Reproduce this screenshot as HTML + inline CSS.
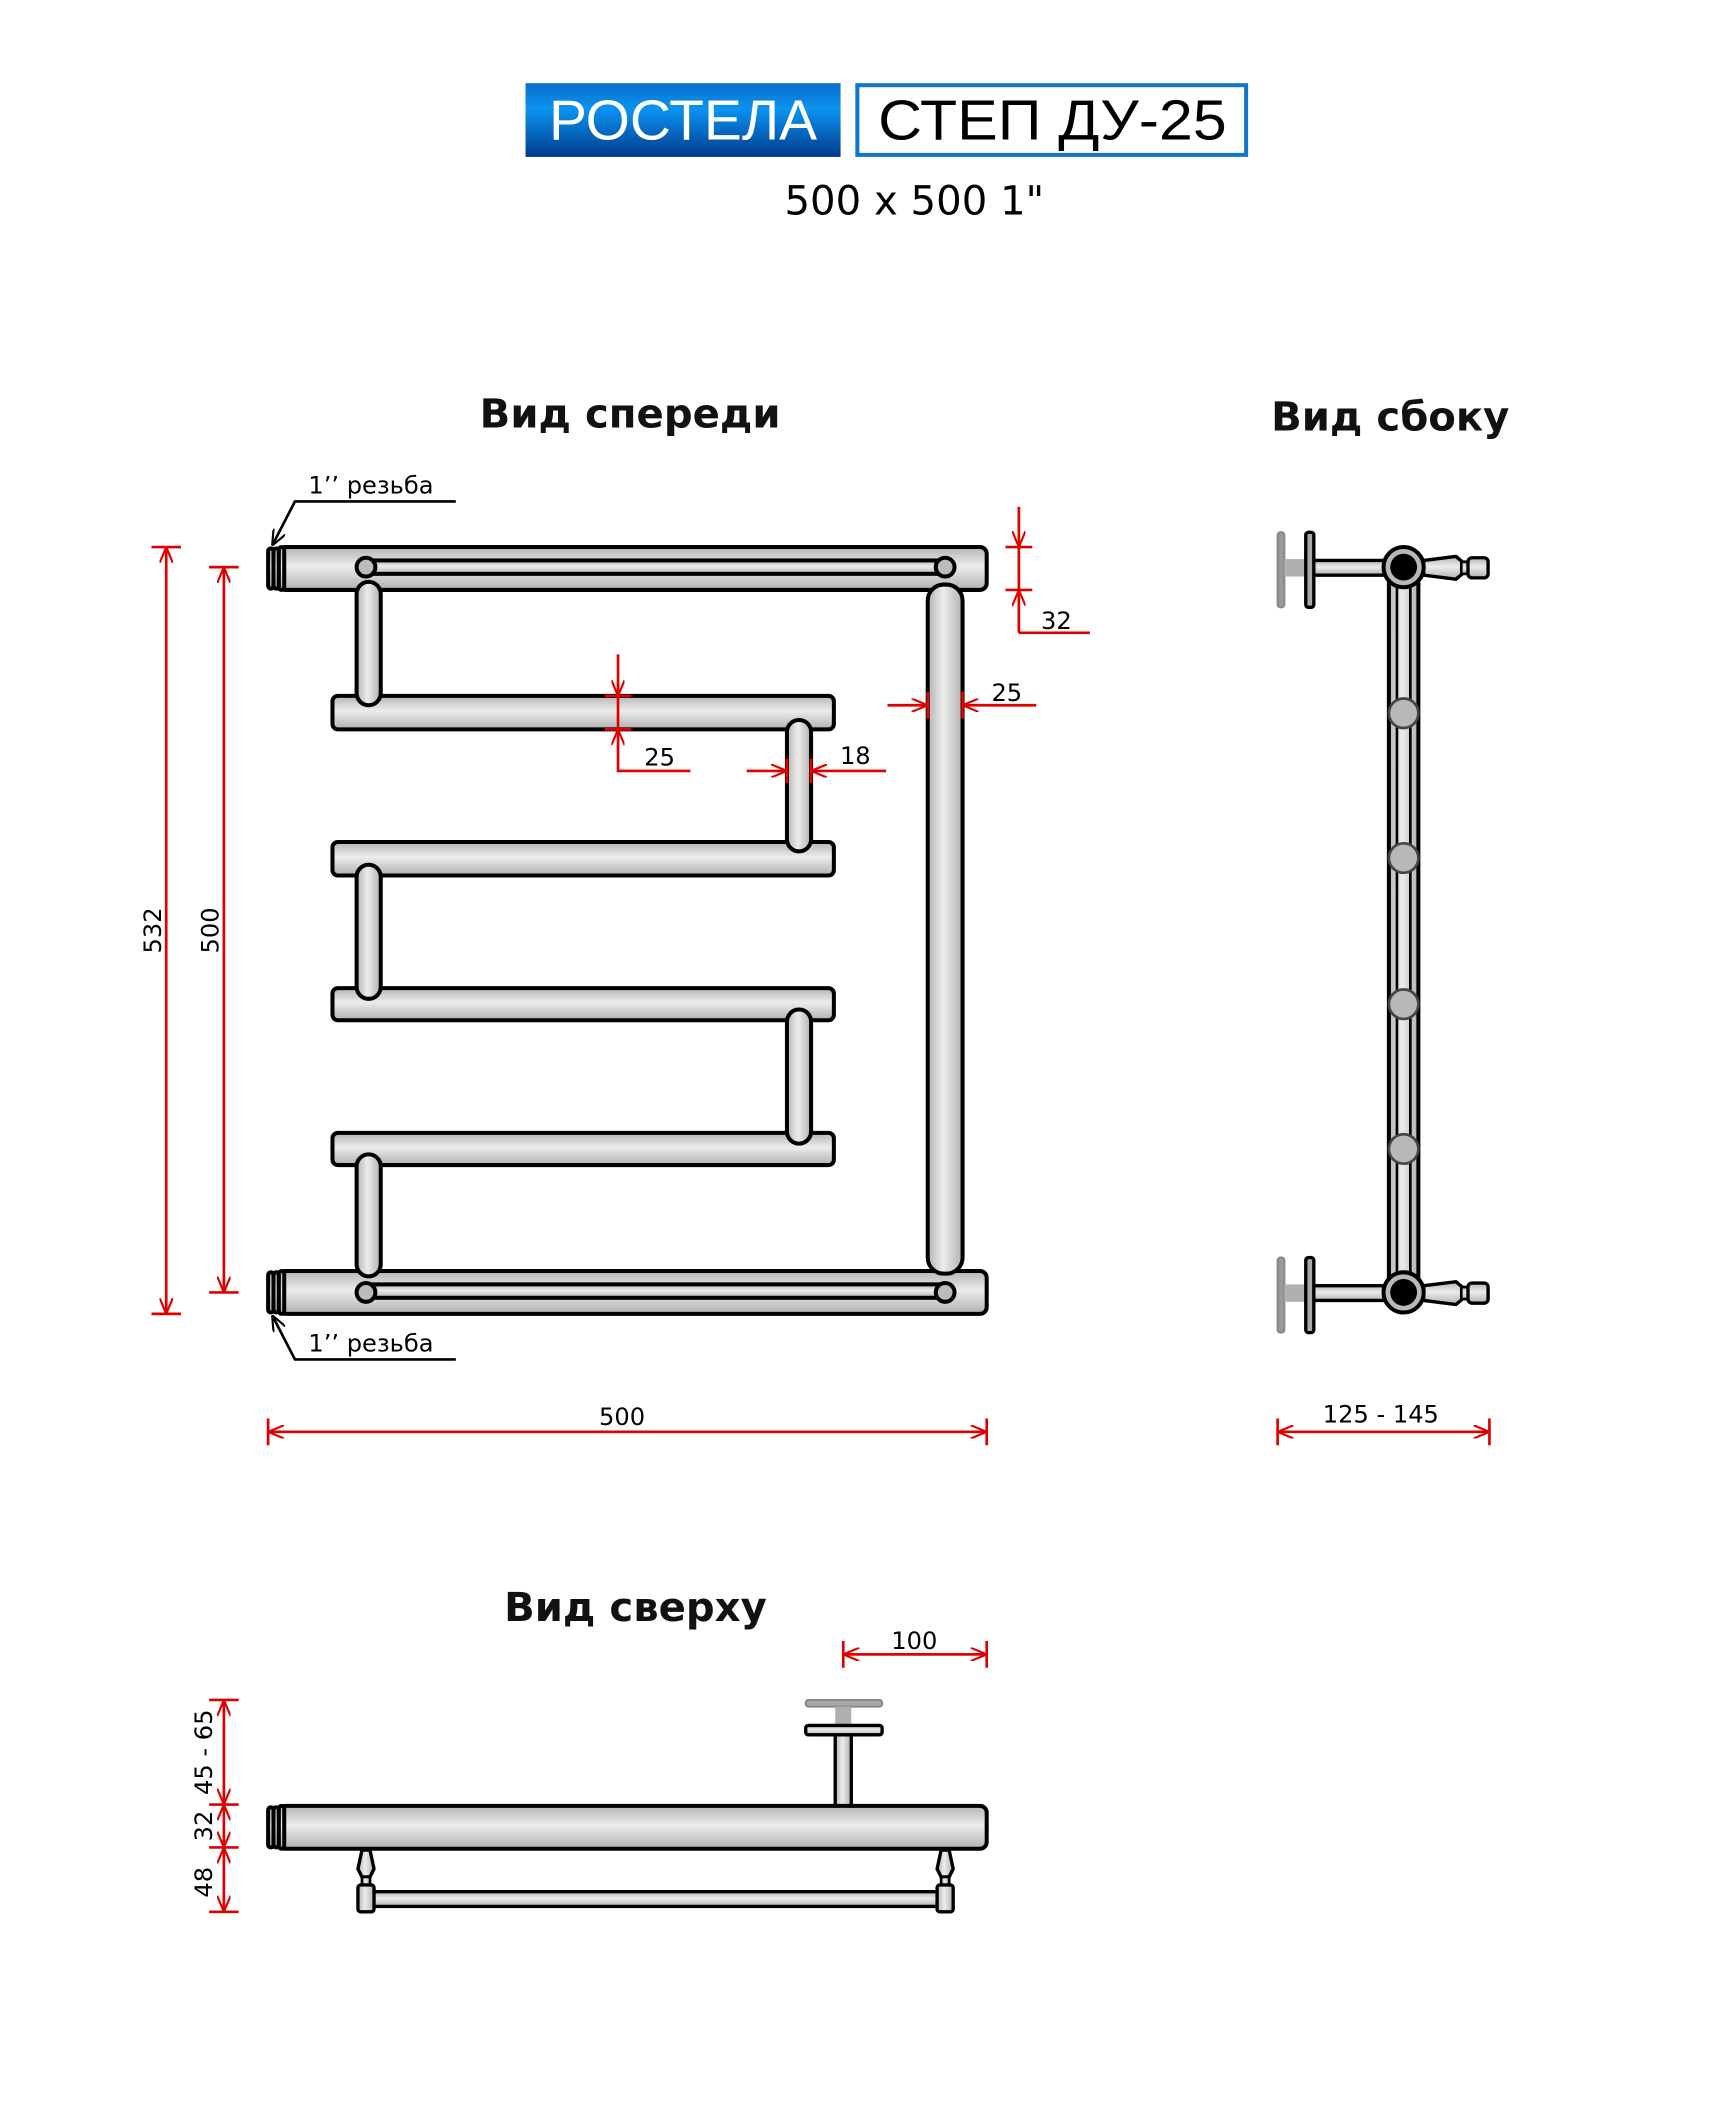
<!DOCTYPE html>
<html><head><meta charset="utf-8"><style>html,body{margin:0;padding:0;background:#fff}svg{display:block}</style></head>
<body>
<svg width="1716" height="2125" viewBox="0 0 1280 1585" xmlns="http://www.w3.org/2000/svg" font-family="'DejaVu Sans','Liberation Sans',sans-serif">
<defs>
<linearGradient id="gh" x1="0" y1="0" x2="0" y2="1">
<stop offset="0" stop-color="#b4b4b4"/><stop offset="0.45" stop-color="#ececec"/><stop offset="1" stop-color="#b0b0b0"/></linearGradient>
<linearGradient id="gv" x1="0" y1="0" x2="1" y2="0">
<stop offset="0" stop-color="#b4b4b4"/><stop offset="0.45" stop-color="#ececec"/><stop offset="1" stop-color="#b0b0b0"/></linearGradient>
<linearGradient id="gb" x1="0" y1="0" x2="0" y2="1">
<stop offset="0" stop-color="#0a6fc8"/><stop offset="0.35" stop-color="#0a93f0"/><stop offset="1" stop-color="#003a8c"/></linearGradient>
<marker id="ar" viewBox="0 0 12 10" refX="12" refY="5" markerWidth="12" markerHeight="10" markerUnits="userSpaceOnUse" orient="auto-start-reverse">
<path d="M0,0 L12,5 L0,10" fill="none" stroke="#e00000" stroke-width="1.6"/></marker>
<marker id="ak" viewBox="0 0 12 10" refX="12" refY="5" markerWidth="12" markerHeight="10" markerUnits="userSpaceOnUse" orient="auto">
<path d="M0,0 L12,5 L0,10" fill="none" stroke="#000" stroke-width="1.6"/></marker>
</defs>

<!-- header -->
<rect x="392" y="62" width="235" height="55" fill="url(#gb)"/>
<text x="509.5" y="104" font-size="42" fill="#fff" text-anchor="middle" font-family="'Liberation Sans',sans-serif" textLength="200" lengthAdjust="spacingAndGlyphs">РОСТЕЛА</text>
<rect x="639.5" y="63.5" width="290" height="52" fill="#fff" stroke="#1177cc" stroke-width="3"/>
<text x="785" y="104" font-size="42" fill="#000" text-anchor="middle" font-family="'Liberation Sans',sans-serif" textLength="260" lengthAdjust="spacingAndGlyphs">СТЕП ДУ-25</text>
<text x="682" y="160" font-size="30" fill="#000" text-anchor="middle" font-family="'DejaVu Sans',sans-serif">500 x 500 1"</text>

<g font-size="30" font-weight="bold" text-anchor="middle" fill="#111">
<text x="470" y="319">Вид спереди</text>
<text x="1037" y="321">Вид сбоку</text>
<text x="474" y="1209">Вид сверху</text>
</g>

<g stroke="#000" stroke-width="3">
<rect x="248" y="519" width="374" height="25" rx="4" fill="url(#gh)"/>
<rect x="248" y="628" width="374" height="25" rx="4" fill="url(#gh)"/>
<rect x="248" y="737" width="374" height="24" rx="4" fill="url(#gh)"/>
<rect x="248" y="845" width="374" height="24" rx="4" fill="url(#gh)"/>
<rect x="208" y="408" width="528" height="32" rx="5" fill="url(#gh)"/>
<rect x="208" y="948" width="528" height="32" rx="5" fill="url(#gh)"/>
<g fill="url(#gh)">
<rect x="200" y="409" width="4" height="30" rx="2"/><rect x="204" y="409" width="4" height="30" rx="2"/><rect x="208" y="408" width="4" height="32" rx="2"/>
<rect x="200" y="949" width="4" height="30" rx="2"/><rect x="204" y="949" width="4" height="30" rx="2"/><rect x="208" y="948" width="4" height="32" rx="2"/>
</g>
<rect x="273" y="418" width="432" height="10" fill="url(#gh)"/>
<rect x="273" y="958" width="432" height="10" fill="url(#gh)"/>
<circle cx="273" cy="423" r="7" fill="#bbb"/><circle cx="705" cy="423" r="7" fill="#bbb"/>
<circle cx="273" cy="964" r="7" fill="#bbb"/><circle cx="705" cy="964" r="7" fill="#bbb"/>
<rect x="266" y="434" width="18" height="92" rx="9" fill="url(#gv)"/>
<rect x="266" y="645" width="18" height="100" rx="9" fill="url(#gv)"/>
<rect x="266" y="861" width="18" height="91" rx="9" fill="url(#gv)"/>
<rect x="587" y="537" width="18" height="98" rx="9" fill="url(#gv)"/>
<rect x="587" y="753" width="18" height="100" rx="9" fill="url(#gv)"/>
<rect x="692" y="436" width="26" height="514" rx="12" fill="url(#gv)"/>
</g>

<g font-size="18" fill="#000">
<text x="230" y="368">1’’ резьба</text>
<text x="230" y="1008">1’’ резьба</text>
</g>
<g stroke="#000" stroke-width="2" fill="none">
<path d="M340,374 H220 L203,407" marker-end="url(#ak)"/>
<path d="M340,1014 H220 L203,981" marker-end="url(#ak)"/>
</g>

<g stroke="#e00000" stroke-width="2" fill="none">
<line x1="124" y1="408" x2="124" y2="980" marker-start="url(#ar)" marker-end="url(#ar)"/>
<line x1="113" y1="408" x2="135" y2="408"/><line x1="113" y1="980" x2="135" y2="980"/>
<line x1="167" y1="423" x2="167" y2="964" marker-start="url(#ar)" marker-end="url(#ar)"/>
<line x1="156" y1="423" x2="178" y2="423"/><line x1="156" y1="964" x2="178" y2="964"/>
<line x1="200" y1="1068" x2="736" y2="1068" marker-start="url(#ar)" marker-end="url(#ar)"/>
<line x1="200" y1="1058" x2="200" y2="1078"/><line x1="736" y1="1058" x2="736" y2="1078"/>
<line x1="760" y1="378" x2="760" y2="408" marker-end="url(#ar)"/>
<path d="M760,472 V440" marker-end="url(#ar)"/>
<line x1="760" y1="408" x2="760" y2="440"/>
<path d="M760,472 H813"/>
<line x1="750" y1="408" x2="770" y2="408"/><line x1="750" y1="440" x2="770" y2="440"/>
<line x1="662" y1="526" x2="692" y2="526" marker-end="url(#ar)"/>
<line x1="773" y1="526" x2="718" y2="526" marker-end="url(#ar)"/>
<line x1="692" y1="516" x2="692" y2="536"/><line x1="718" y1="516" x2="718" y2="536"/>
<line x1="461" y1="488" x2="461" y2="519" marker-end="url(#ar)"/>
<line x1="461" y1="519" x2="461" y2="544"/>
<path d="M515,575 H461 V544" marker-end="url(#ar)"/>
<line x1="451" y1="519" x2="471" y2="519"/><line x1="451" y1="544" x2="471" y2="544"/>
<line x1="557" y1="575" x2="587" y2="575" marker-end="url(#ar)"/>
<line x1="661" y1="575" x2="605" y2="575" marker-end="url(#ar)"/>
<line x1="587" y1="566" x2="587" y2="584"/><line x1="605" y1="566" x2="605" y2="584"/>
<line x1="953" y1="1068" x2="1111" y2="1068" marker-start="url(#ar)" marker-end="url(#ar)"/>
<line x1="953" y1="1058" x2="953" y2="1078"/><line x1="1111" y1="1058" x2="1111" y2="1078"/>
<line x1="629" y1="1234" x2="736" y2="1234" marker-start="url(#ar)" marker-end="url(#ar)"/>
<line x1="629" y1="1224" x2="629" y2="1244"/><line x1="736" y1="1224" x2="736" y2="1244"/>
<line x1="167" y1="1268" x2="167" y2="1346" marker-start="url(#ar)" marker-end="url(#ar)"/>
<line x1="167" y1="1346" x2="167" y2="1378" marker-start="url(#ar)" marker-end="url(#ar)"/>
<line x1="167" y1="1378" x2="167" y2="1426" marker-start="url(#ar)" marker-end="url(#ar)"/>
<line x1="156" y1="1268" x2="178" y2="1268"/><line x1="156" y1="1346" x2="178" y2="1346"/>
<line x1="156" y1="1378" x2="178" y2="1378"/><line x1="156" y1="1426" x2="178" y2="1426"/>
</g>

<g font-size="18" fill="#000" text-anchor="middle">
<text x="120" y="694" transform="rotate(-90 120 694)">532</text>
<text x="163" y="694" transform="rotate(-90 163 694)">500</text>
<text x="464" y="1063">500</text>
<text x="788" y="469">32</text>
<text x="751" y="523">25</text>
<text x="492" y="571">25</text>
<text x="638" y="570">18</text>
<text x="1030" y="1061">125 - 145</text>
<text x="682" y="1230">100</text>
<text x="158" y="1307" transform="rotate(-90 158 1307)">45 - 65</text>
<text x="158" y="1362" transform="rotate(-90 158 1362)">32</text>
<text x="158" y="1404" transform="rotate(-90 158 1404)">48</text>
</g>

<g stroke="#000" stroke-width="3">
<rect x="1036" y="423" width="22" height="541" fill="url(#gv)"/>
<line x1="1042" y1="430" x2="1042" y2="958" stroke-width="2"/>
<line x1="1052" y1="430" x2="1052" y2="958" stroke-width="2"/>
</g>
<g fill="#b8b8b8" stroke="#444" stroke-width="2">
<circle cx="1047" cy="532" r="11"/><circle cx="1047" cy="640" r="11"/><circle cx="1047" cy="749" r="11"/><circle cx="1047" cy="857" r="11"/>
</g>
<g id="sidenode">
<rect x="953" y="397" width="5" height="56" rx="2" fill="#9a9a9a" stroke="#888" stroke-width="1.5"/>
<rect x="958" y="417" width="16" height="13" fill="#b0b0b0"/>
<rect x="978" y="418" width="56" height="11" fill="url(#gh)" stroke="#000" stroke-width="2.5"/>
<rect x="974" y="397" width="6" height="56" rx="2" fill="#aaa" stroke="#000" stroke-width="2.5"/>
<path d="M1062,418 L1086,415 L1092,420 V427 L1086,432 L1062,429 Z" fill="url(#gh)" stroke="#000" stroke-width="2.5"/>
<rect x="1090" y="419" width="6" height="9" fill="url(#gh)" stroke="#000" stroke-width="2"/>
<rect x="1095" y="416" width="15" height="15" rx="3" fill="url(#gh)" stroke="#000" stroke-width="2.5"/>
<circle cx="1047" cy="423" r="15" fill="#b8b8b8" stroke="#000" stroke-width="3"/>
<circle cx="1047" cy="423" r="10" fill="#000"/>
</g>
<use href="#sidenode" transform="translate(0,541)"/>

<g stroke="#000" stroke-width="3">
<rect x="601" y="1268" width="57" height="5" rx="2" fill="#a8a8a8" stroke="#888" stroke-width="1.5"/>
<rect x="623" y="1273" width="12" height="14" fill="#b0b0b0" stroke="none"/>
<rect x="623" y="1292" width="12" height="56" fill="url(#gv)" stroke-width="2.5"/>
<rect x="601" y="1287" width="57" height="7" rx="2" fill="url(#gh)" stroke-width="2.5"/>
<rect x="208" y="1347" width="528" height="32" rx="5" fill="url(#gh)"/>
<g fill="url(#gh)">
<rect x="200" y="1348" width="4" height="30" rx="2"/><rect x="204" y="1348" width="4" height="30" rx="2"/><rect x="208" y="1347" width="4" height="32" rx="2"/>
</g>
<rect x="278" y="1411" width="422" height="11" fill="url(#gh)" stroke-width="2.5"/>
<g id="tv" stroke-width="2.5">
<path d="M270,1380 H276 L279,1394 L276,1400 H270 L267,1394 Z" fill="url(#gv)"/>
<rect x="270" y="1400" width="6" height="7" fill="url(#gv)" stroke-width="2"/>
<rect x="267" y="1406" width="12" height="20" rx="2" fill="url(#gv)"/>
</g>
<use href="#tv" transform="translate(432,0)"/>
</g>
</svg>
</body></html>
